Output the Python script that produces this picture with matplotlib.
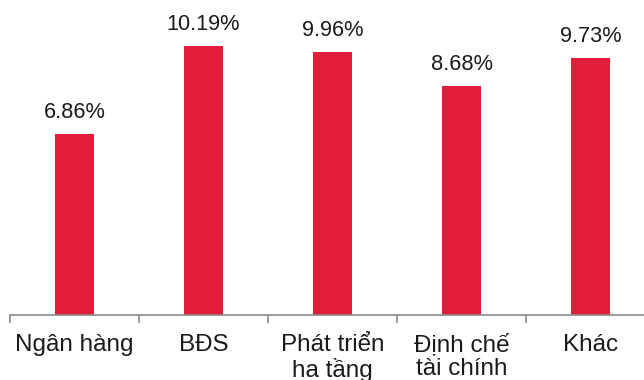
import matplotlib
matplotlib.use("Agg")
import matplotlib.pyplot as plt
import numpy as np

categories = ["Ngân hàng", "BĐS", "Phát triển\nha tầng", "Định chế\ntài chính", "Khác"]
values = [6.86, 10.19, 9.96, 8.68, 9.73]
value_labels = ["6.86%", "10.19%", "9.96%", "8.68%", "9.73%"]

plt.rcParams["font.family"] = ["Liberation Sans", "DejaVu Sans"]

W, H = 644, 380
fig = plt.figure(figsize=(W / 100, H / 100), dpi=100)
# axes run slightly past the right edge of the canvas
ax = fig.add_axes([10 / W, 65 / H, 645 / W, 290 / H])

x = np.arange(len(categories))
bars = ax.bar(x, values, width=0.31, color="#E21D3A", zorder=2)

for b, lab in zip(bars, value_labels):
    ax.annotate(lab, (b.get_x() + b.get_width() / 2, b.get_height()),
                xytext=(0, 8), textcoords="offset points",
                ha="center", va="bottom", fontsize=15.7, color="#1a1a1a")

ax.set_xlim(-0.5, len(categories) - 0.5)
ax.set_ylim(0, 11)

for s in ["top", "right", "left"]:
    ax.spines[s].set_visible(False)
ax.spines["bottom"].set_color("#8a8a8a")
ax.spines["bottom"].set_linewidth(1.2)
ax.set_yticks([])

ax.set_xticks(x)
ax.set_xticklabels(categories, fontsize=17.5, color="#1a1a1a", linespacing=1.1)
ax.tick_params(axis="x", which="major", length=0, pad=13.5)
ax.set_xticks(np.arange(-0.5, len(categories)), minor=True)
ax.tick_params(axis="x", which="minor", length=6, width=1.2, color="#8a8a8a")

fig.savefig("out.png", dpi=100)
